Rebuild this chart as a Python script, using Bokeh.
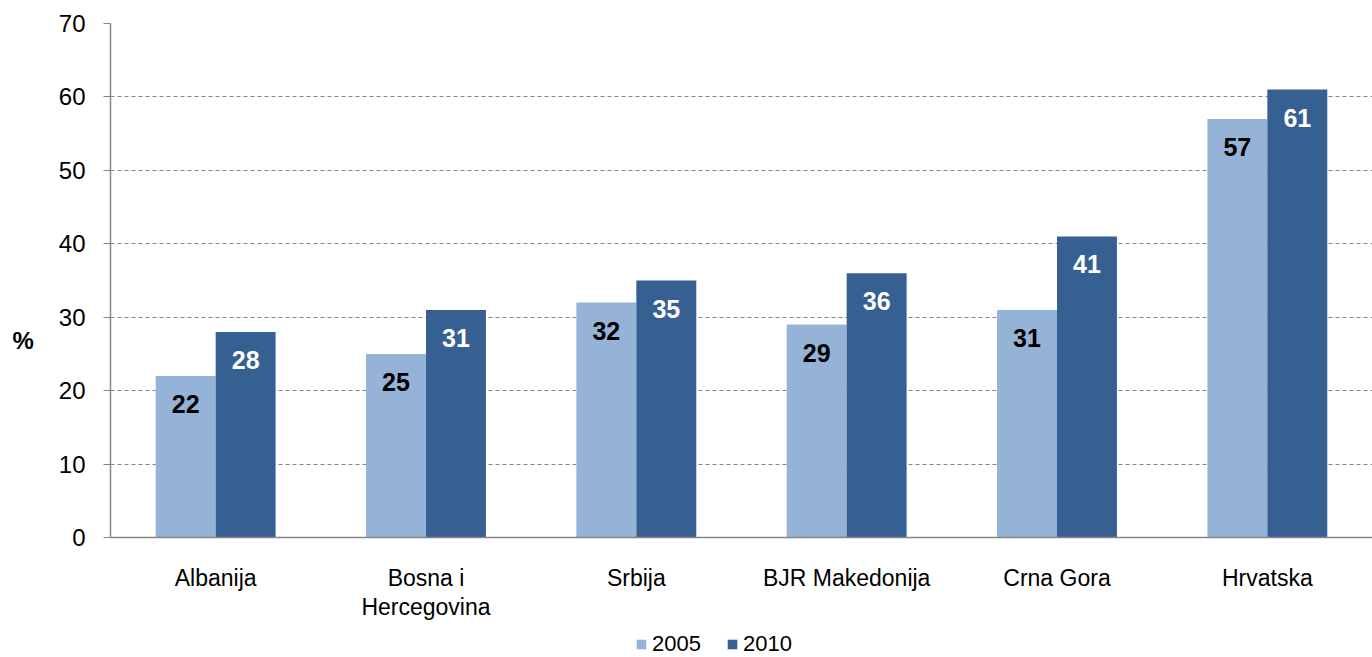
from bokeh.plotting import figure
from bokeh.models import ColumnDataSource, FixedTicker, Legend, LegendItem, Range1d, Span
from bokeh.core.properties import value
from bokeh.embed import file_html
from bokeh.resources import INLINE

countries = ["Albanija", "Bosna i\nHercegovina", "Srbija", "BJR Makedonija", "Crna Gora", "Hrvatska"]
v2005 = [22, 25, 32, 29, 31, 57]
v2010 = [28, 31, 35, 36, 41, 61]
series = ["2005", "2010"]
colors = ["#95B3D7", "#366092"]
label_colors = ["#000000", "#FFFFFF"]
y_ticks = [0, 10, 20, 30, 40, 50, 60, 70]

FONT = "Liberation Sans"
AXIS_GRAY = "#868686"
n = len(countries)
centers = [i + 0.5 for i in range(n)]
bw = 0.285
offs = [-bw / 2, bw / 2]

# frame extends below zero so the category labels and the legend sit inside it
p = figure(width=1372, height=657, frame_height=634,
           min_border_left=110, min_border_right=0, min_border_top=23,
           min_border_bottom=0, output_backend="svg", toolbar_location=None,
           x_axis_location=None,
           x_range=Range1d(0, 6), y_range=Range1d(-16.34, 70))
p.outline_line_color = None
p.background_fill_color = "white"

p.xgrid.visible = False
p.ygrid.ticker = FixedTicker(ticks=y_ticks)
p.ygrid.grid_line_color = AXIS_GRAY
p.ygrid.grid_line_dash = "4 3"
p.ygrid.grid_line_width = 1.2

renderers = []
for k, (vals, col, lc) in enumerate(zip([v2005, v2010], colors, label_colors)):
    xs = [c + offs[k] for c in centers]
    src = ColumnDataSource(dict(x=xs, top=vals, lab=[str(v) for v in vals]))
    r = p.vbar(x="x", top="top", width=bw, bottom=0, source=src,
               fill_color=col, line_color=None)
    renderers.append(r)
    p.text(x="x", y="top", text="lab", source=src, text_align="center",
           text_baseline="top", y_offset=19, text_color=lc,
           text_font=value(FONT), text_font_style="bold", text_font_size="25px")

# category axis line at zero
p.add_layout(Span(location=0, dimension="width", line_color=AXIS_GRAY, line_width=1.5))

# category labels
cat_src = ColumnDataSource(dict(x=centers, y=[0] * n, name=countries))
p.text(x="x", y="y", text="name", source=cat_src, text_align="center",
       text_baseline="top", y_offset=27, text_color="#000000",
       text_font=value(FONT), text_font_size="23px", text_line_height=1.13)

# value axis
p.yaxis.bounds = (0, 70)
p.yaxis.ticker = FixedTicker(ticks=y_ticks)
p.yaxis.major_tick_out = 7
p.yaxis.major_tick_in = 0
p.yaxis.minor_tick_line_color = None
p.yaxis.axis_line_color = AXIS_GRAY
p.yaxis.axis_line_width = 1.5
p.yaxis.major_tick_line_color = AXIS_GRAY
p.yaxis.major_label_text_font = FONT
p.yaxis.major_label_text_font_size = "24px"
p.yaxis.major_label_text_color = "#000000"
p.yaxis.major_label_standoff = 18
p.yaxis.axis_label = "%"
p.yaxis.axis_label_orientation = "horizontal"
p.yaxis.axis_label_text_font = FONT
p.yaxis.axis_label_text_font_style = "bold"
p.yaxis.axis_label_text_font_size = "24px"
p.yaxis.axis_label_text_color = "#000000"
p.yaxis.axis_label_standoff = 22

legend = Legend(items=[LegendItem(label=s, renderers=[r]) for s, r in zip(series, renderers)],
                orientation="horizontal", location=(525, 0),
                glyph_width=12, glyph_height=12, label_standoff=5, spacing=25,
                padding=0, margin=0, border_line_color=None,
                background_fill_alpha=0,
                label_text_font=FONT, label_text_font_size="22px",
                label_text_color="#000000")
p.add_layout(legend)

open("out.html", "w").write(file_html(p, INLINE))
